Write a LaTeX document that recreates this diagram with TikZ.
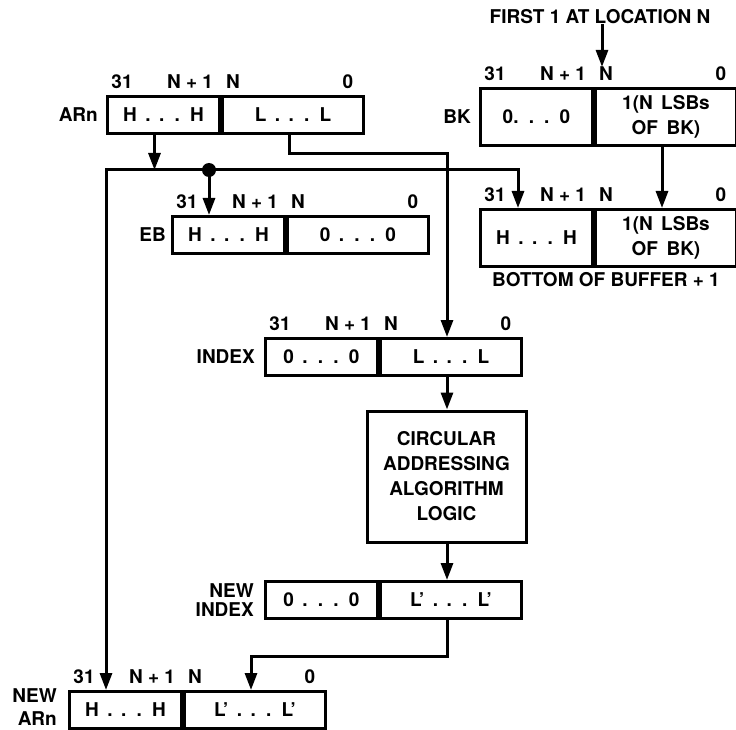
\documentclass[tikz,border=0pt]{standalone}
\usepackage{fontspec}
\setmainfont{TeX Gyre Heros}
\newfontfamily\regfont{TeX Gyre Heros}[WordSpace=1.6]
\usetikzlibrary{arrows.meta, positioning, calc}

\tikzset{
  >={Triangle[length=17pt, width=12pt]},
  wire/.style={line width=3pt},
  half/.style={draw, line width=3pt, minimum height=37pt, inner sep=0pt, anchor=north west,
    font=\regfont\fontsize{19}{25}\selectfont\bfseries},
  hw/.style={minimum width=112pt},
  lw/.style={minimum width=141pt},
  tall/.style={minimum height=57pt, align=center},
  bits/.style={inner sep=0pt},
  reglabel/.style={inner sep=0pt, align=right},
}

\begin{document}
\begin{tikzpicture}[x=1pt, y=-1pt, font=\fontsize{19}{25}\selectfont\bfseries]
        \useasboundingbox (0,0) rectangle (736,730);

        % ARn
        \node[half, hw] (arnH) at (106,95) {H . . . H};
        \node[half, lw, right=0pt of arnH] (arnL) {L . . . L};
        \node[reglabel, left=8pt of arnH] (arn) {ARn};

        % EB
        \node[half, hw] (ebH) at (171,215) {H . . . H};
        \node[half, lw, right=0pt of ebH] (ebL) {0 . . . 0};
        \node[reglabel, left=5pt of ebH] (eb) {EB};

        % BK
        \node[half, hw, tall] (bkH) at (479,87) {0. . . 0};
        \node[half, lw, tall, right=0pt of bkH] (bkL) {1(N LSBs\\OF BK)};
        \node[reglabel, left=8pt of bkH] (bk) {BK};
        \node[bits] (first) at (600,17) {FIRST 1 AT LOCATION N};

        % bottom of buffer
        \node[half, hw, tall] (bobH) at (479,208) {H . . . H};
        \node[half, lw, tall, right=0pt of bobH] (bobL) {1(N LSBs\\OF BK)};
        \node[bits] (bottom) at (606,280) {BOTTOM OF BUFFER + 1};

        % INDEX
        \node[half, hw] (idxH) at (264,337) {0 . . . 0};
        \node[half, lw, right=0pt of idxH] (idxL) {L . . . L};
        \node[reglabel, left=9pt of idxH] (idx) {INDEX};

        % algorithm
        \node[draw, line width=3pt, minimum width=159pt, minimum height=131pt, align=center] (circ) at (446.5,476.5)
            {CIRCULAR\\ADDRESSING\\ALGORITHM\\LOGIC};

        % NEW INDEX
        \node[half, hw] (nidxH) at (264,580) {0 . . . 0};
        \node[half, lw, right=0pt of nidxH] (nidxL) {L’ . . . L’};
        \node[reglabel, left=10pt of nidxH, font=\fontsize{19}{19}\selectfont\bfseries] (nidx) {NEW\\INDEX};

        % NEW ARn
        \node[half, hw] (narnH) at (68,690) {H . . . H};
        \node[half, lw, right=0pt of narnH] (narnL) {L’ . . . L’};
        \node[reglabel, left=11pt of narnH, yshift=3pt, font=\fontsize{19}{23}\selectfont\bfseries] (narn) {NEW\\ARn};

        % bit numbers
        \foreach \rname in {arn, eb, bk, bob, idx, narn} {
            \node[bits] (\rname 31) at ($(\rname H.north west)+(16,-13)$) {31};
            \node[bits] (\rname n1) at ($(\rname H.north west)+(84,-13)$) {N + 1};
            \node[bits] (\rname n) at ($(\rname H.north west)+(127,-13)$) {N};
            \node[bits] (\rname 0) at ($(\rname H.north west)+(242,-13)$) {0};
        }

        % connectors
        \coordinate (busL) at (106,170);
        \coordinate (busR) at (518,170);
        \coordinate (tap) at (209,170);
        \coordinate (arnOut) at ([xshift=-9pt]arnH.south);
        \coordinate (idxOut) at ([xshift=-4pt]idxL.south);

        \draw[wire, ->] (arnOut) -- (arnOut |- busL);
        \draw[wire, <->] (busL |- narnH.north) -- (busL) -- (busR) -- (busR |- bobH.north);
        \draw[wire, ->] (tap) -- (tap |- ebH.north);
        \fill (tap) circle (7pt);

        \draw[wire, ->] ([xshift=-4pt]arnL.south) -- ++(0,19) -| ([xshift=-4pt]idxL.north);
        \draw[wire, ->] (idxOut) -- (idxOut |- circ.north);
        \draw[wire, ->] (idxOut |- circ.south) -- (idxOut |- nidxL.north);
        \draw[wire, ->] ([xshift=-4pt]nidxL.south) -- ++(0,36) -| ([xshift=-4pt]narnL.north);

        \draw[wire, ->] ([xshift=-4pt]bkL.south) -- ([xshift=-4pt]bobL.north);
        \draw[wire, ->] ([xshift=2pt]first.south) -- ([xshift=2pt]first.south |- bkn.north);
\end{tikzpicture}
\end{document}
